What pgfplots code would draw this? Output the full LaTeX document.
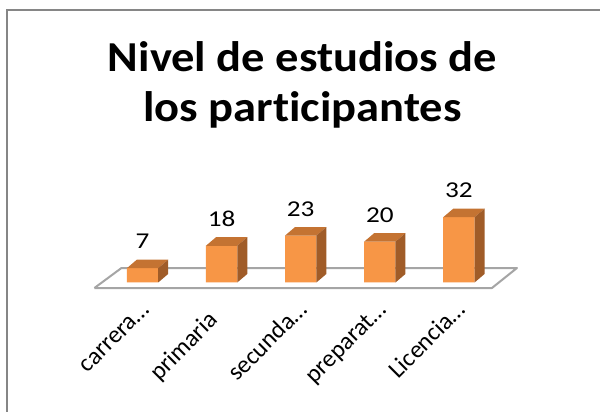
\documentclass[border=0pt]{standalone}
\usepackage{fontspec}
\setmainfont{Carlito}[Ligatures=NoCommon]
\usepackage{pgfplots}
\pgfplotsset{compat=1.18}
\definecolor{barfront}{RGB}{247,150,70}
\definecolor{bartop}{RGB}{196,115,50}
\definecolor{barside}{RGB}{160,92,40}
\definecolor{framegray}{RGB}{134,134,134}
\definecolor{floorgray}{RGB}{165,165,165}
\begin{document}
\begin{tikzpicture}
\useasboundingbox (0,0) rectangle (450pt,308.25pt);
\draw[framegray, line width=1.5pt] (4.9pt,-5pt) -- (4.9pt,300.75pt) -- (460pt,300.75pt);
\node[font=\bfseries\fontsize{32}{38}\selectfont, xscale=1.09, anchor=base, inner sep=0pt] at (226.9pt,254.25pt) {Nivel de estudios de};
\node[font=\bfseries\fontsize{32}{38}\selectfont, xscale=1.09, anchor=base, inner sep=0pt] at (226.9pt,216.75pt) {los participantes};
\begin{axis}[
  at={(47.55pt,87.2pt)}, anchor=south west,
  x=59.325pt, y=1.53pt,
  xmin=-1, xmax=5, ymin=-6, ymax=40,
  enlargelimits=false, clip=false,
  axis line style={draw=none}, tick style={draw=none},
  major tick length=0pt,
  /pgf/number format/assume math mode=true,
  ytick=\empty,
  xtick={0,1,2,3,4},
  xticklabels={carrera…, primaria\hspace*{11pt}, secunda…, preparat…, Licencia…},
  xticklabel style={font=\fontsize{18.5}{22}\selectfont, inner sep=0pt, xshift=6pt, yshift=-12.2pt, rotate=45, anchor=base east},
  point meta min=0, point meta max=40,
]
% floor
\addplot[draw=floorgray, line width=1.5pt, line join=round, fill=white]
  coordinates {(-0.608,-2.7) (4.418,-2.7) (4.734,7.1) (-0.266,7.1) (-0.608,-2.7)};
% front faces
\addplot[ybar, bar width=23.5pt, fill=barfront, draw=none,
  nodes near coords,
  every node near coord/.append style={font=\fontsize{17}{20}\selectfont, xscale=1.2, anchor=base, yshift=14.6pt, text=black}]
  coordinates {(0,7) (1,18) (2,23) (3,20) (4,32)};
% top and side faces
\addplot[scatter, only marks, point meta=y, mark=*, mark size=0pt,
  mark options={draw opacity=0, fill opacity=0},
  scatter/@pre marker code/.code={%
    \pgfmathsetmacro\barh{\pgfplotspointmetatransformed*0.0612}%
    \fill[bartop, fill opacity=1] (-11.75pt,0pt) -- (11.75pt,0pt) -- (19.25pt,6.4pt) -- (-4.25pt,6.4pt) -- cycle;
    \fill[barside, fill opacity=1] (11.75pt,0pt) -- (19.25pt,6.4pt) -- (19.25pt,6.4pt-\barh pt) -- (11.75pt,-\barh pt) -- cycle;
    \begin{scope}},
  scatter/@post marker code/.code={\end{scope}}]
  coordinates {(0,7) (1,18) (2,23) (3,20) (4,32)};
\end{axis}
\end{tikzpicture}
\end{document}
